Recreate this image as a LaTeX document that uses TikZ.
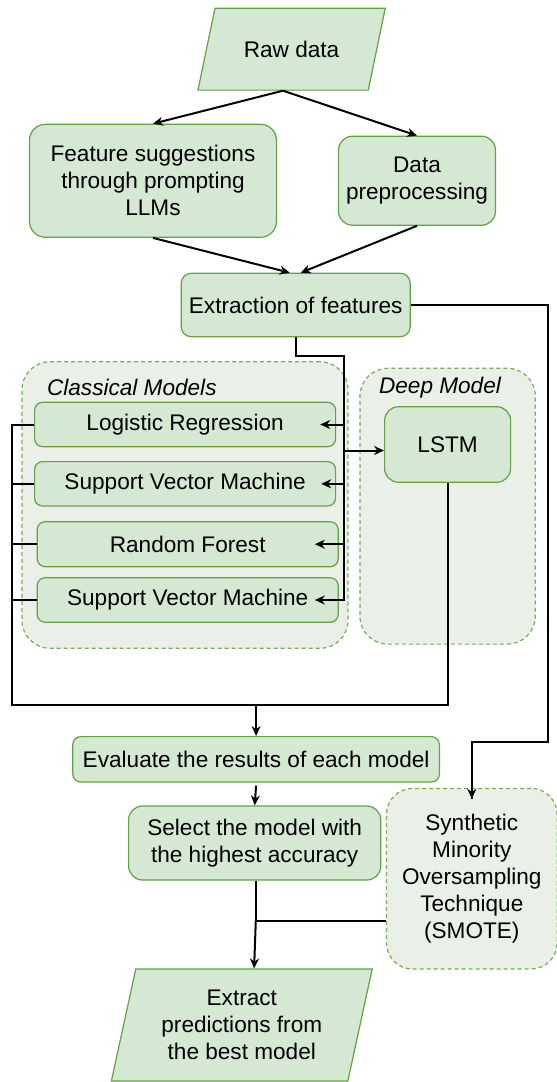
\documentclass[tikz,border=0pt]{standalone}
\usepackage{fontspec}
\setmainfont{Liberation Sans}
\usepackage{xcolor}
\usetikzlibrary{arrows.meta}
\usetikzlibrary{shapes.geometric}

\definecolor{boxfill}{HTML}{D5E8D4}
\definecolor{boxline}{RGB}{100,160,70}
\definecolor{grpfill}{RGB}{234,240,232}
\definecolor{grpline}{RGB}{120,172,92}

\begin{document}
\begin{tikzpicture}[x=0.5pt,y=-0.5pt,
		font=\fontsize{11.3}{13.5}\selectfont,
		proc/.style={draw=boxline, fill=boxfill, line width=0.6pt, rounded corners=5pt, align=center, inner sep=2pt},
		io/.style={trapezium, draw=boxline, fill=boxfill, line width=0.6pt, align=center, inner sep=2pt, trapezium stretches=true},
		grp/.style={draw=grpline, fill=grpfill, dash pattern=on 2pt off 1.5pt, line width=0.6pt, rounded corners=14pt},
		ln/.style={line width=1pt},
		arr/.style={line width=1pt, -{Stealth[length=5pt,width=4.5pt]}}]
	\useasboundingbox (0,0) rectangle (557,1082);

	% the two model groups
	\node[grp, minimum width=163pt, minimum height=143.3pt] (cls) at (185,505){};
	\node[grp, minimum width=87.7pt, minimum height=137.9pt] (deep) at (447.6,506.2){};
	\node[anchor=west, font=\fontsize{11.3}{13.5}\selectfont\itshape] (clslab) at (40,387){Classical Models};
	\node[anchor=west, font=\fontsize{11.3}{13.5}\selectfont\itshape] (deeplab) at (372,388){Deep Model};

	\node[io, trapezium left angle=65, trapezium right angle=115, minimum width=93.8pt, minimum height=40.9pt] (raw) at (291.6,49.2){Raw data};
	\node[proc, rounded corners=8pt, minimum width=123.5pt, minimum height=56.5pt] (feat) at (153,180.8){Feature suggestions\\through prompting\\LLMs};
	\node[proc, rounded corners=7pt, minimum width=78.5pt, minimum height=44.5pt] (prep) at (417,180.7){Data\\preprocessing};
	\node[proc, minimum width=114.5pt, minimum height=31.7pt] (ext) at (295.7,305){Extraction of features};

	\node[proc, rounded corners=4pt, minimum width=150.5pt, minimum height=22.2pt] (lr) at (185.1,424.5){Logistic Regression};
	\node[proc, rounded corners=4pt, minimum width=150.5pt, minimum height=22.2pt] (svma) at (185.1,483.8){Support Vector Machine};
	\node[proc, rounded corners=4pt, minimum width=150.5pt, minimum height=22.5pt] (rf) at (187.7,544.2){Random Forest};
	\node[proc, rounded corners=4pt, minimum width=150.5pt, minimum height=22.3pt] (svmb) at (187.7,600){Support Vector Machine};
	\node[proc, rounded corners=7pt, minimum width=63pt, minimum height=37.8pt] (lstm) at (447.6,444.5){LSTM};

	\node[proc, rounded corners=4pt, minimum width=183.3pt, minimum height=22.7pt] (eval) at (256.1,759.3){Evaluate the results of each model};
	\node[proc, rounded corners=7pt, minimum width=126.1pt, minimum height=37pt] (sel) at (254.7,843){Select the model with\\the highest accuracy};
	\node[grp, rounded corners=13pt, align=center, minimum width=85.3pt, minimum height=90.3pt] (smote) at (471.8,878.7){Synthetic\\Minority\\Oversampling\\Technique\\(SMOTE)};
	\node[io, trapezium left angle=76, trapezium right angle=104, minimum width=130.5pt, minimum height=56pt] (out) at (241.8,1025){Extract\\predictions from\\the best model};

	% junction points
	\coordinate (busT) at (344,356);
	\coordinate (busB) at (344,601);
	\coordinate (colB) at (11.7,705);
	\coordinate (rtT) at (548,305);
	\coordinate (rtB) at (548,741.7);
	\coordinate (join) at (255.8,920.7);

	\draw[arr] (raw.bottom side) -- (feat.north);
	\draw[arr] (raw.bottom side) -- (prep.north);
	\draw[arr] (feat.south) -- ([xshift=-3pt]ext.north);
	\draw[arr] (prep.south) -- ([xshift=2.5pt]ext.north);

	% feature bus into the models
	\draw[ln] (ext.south) |- (busT) -- (busB);
	\draw[arr] (busB |- lr.east) -- ([xshift=-8pt]lr.east);
	\draw[arr] (busB |- svma.east) -- ([xshift=-7.5pt]svma.east);
	\draw[arr] (busB |- rf.east) -- ([xshift=-12pt]rf.east);
	\draw[arr] (busB |- svmb.east) -- ([xshift=-12pt]svmb.east);
	\draw[arr] ([yshift=-3pt]busB |- lstm.west) -- ([yshift=-3pt]lstm.west);

	% results collected on the left
	\draw[ln] (lr.west) -- (colB |- lr.west) -- (colB) -| (lstm.south);
	\draw[ln] (svma.west) -- (colB |- svma.west);
	\draw[ln] (rf.west) -- (colB |- rf.west);
	\draw[ln] (svmb.west) -- (colB |- svmb.west);
	\draw[arr] (eval.north |- colB) -- (eval.north);
	\draw[arr] ([yshift=-1.5pt]eval.south) -- (sel.north);

	% oversampling branch
	\draw[ln] (ext.east) -- (rtT) -- (rtB) -| ([yshift=-5.5pt]smote.north);
	\draw[arr] (smote.north |- rtB) -- ([yshift=-5.5pt]smote.north);
	\draw[ln] (join |- sel.south) -- (join);
	\draw[ln] (smote.west |- join) -- (join);
	\draw[arr] (join) -- (out.top side);
\end{tikzpicture}
\end{document}
